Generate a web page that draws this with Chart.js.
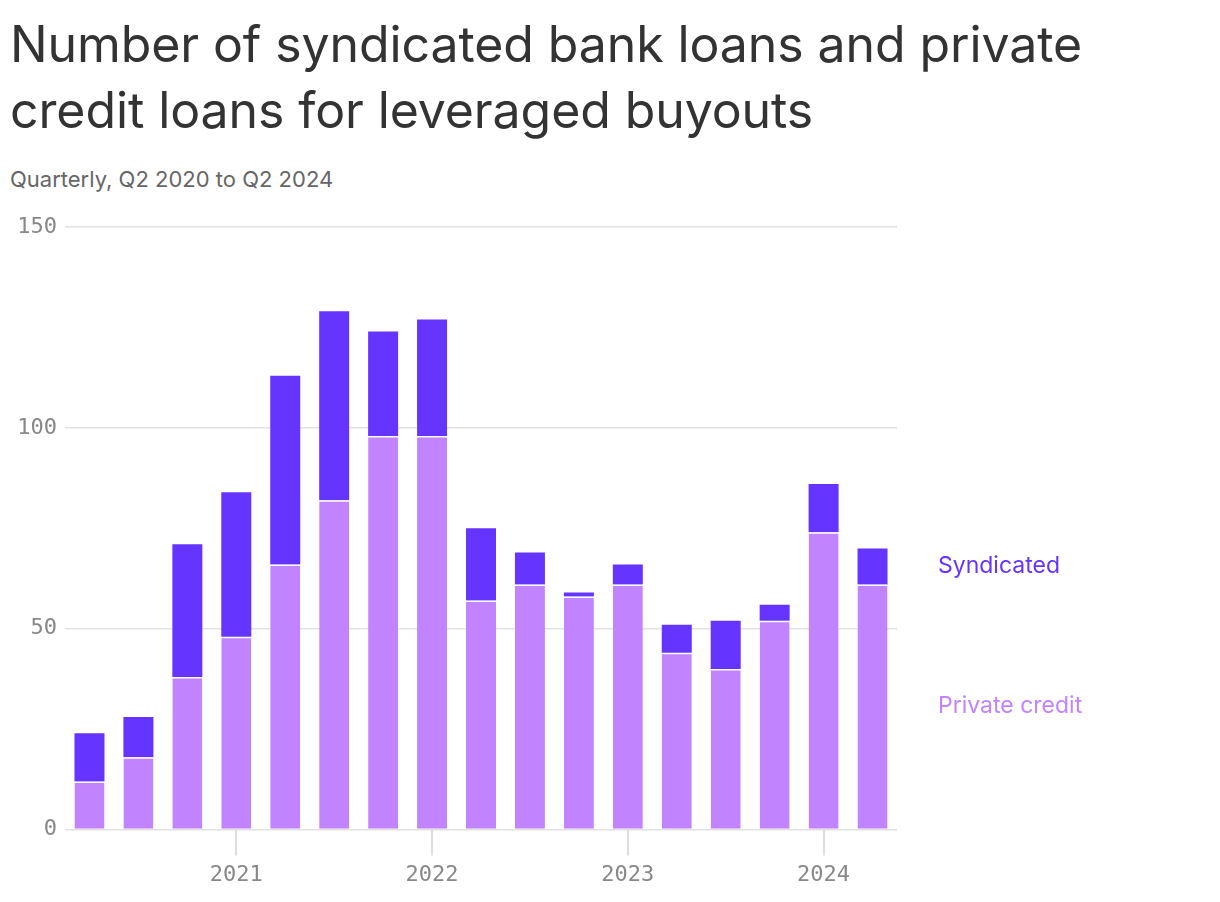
<!DOCTYPE html>
<html>
<head>
<meta charset="utf-8">
<script src="https://cdn.jsdelivr.net/npm/chart.js@4"></script>
<style>
  body { margin: 0; background: #fff; font-family: Inter, "Noto Sans", sans-serif; }
  #title { position: absolute; left: 10px; top: 11px; margin: 0; font-size: 50px; font-weight: 400; line-height: 66px; color: #333; letter-spacing: -0.1px; }
  #subtitle { position: absolute; left: 10px; top: 166px; font-size: 22px; color: #666; }
  #wrap { position: absolute; left: 0; top: 200px; width: 1220px; height: 700px; }
  .lab { position: absolute; left: 938px; font-size: 23px; }
</style>
</head>
<body>
<h1 id="title">Number of syndicated bank loans and private<br>credit loans for leveraged buyouts</h1>
<div id="subtitle">Quarterly, Q2 2020 to Q2 2024</div>
<div id="wrap"><canvas id="chart"></canvas></div>
<div class="lab" style="top:551px;color:#6535ff">Syndicated</div>
<div class="lab" style="top:691px;color:#c283ff">Private credit</div>
<script>
document.addEventListener('DOMContentLoaded', () => {
    // Quarters Q2 2020 .. Q2 2024
    const quarters = ['Q2 2020', 'Q3 2020', 'Q4 2020', 'Q1 2021', 'Q2 2021', 'Q3 2021', 'Q4 2021',
        'Q1 2022', 'Q2 2022', 'Q3 2022', 'Q4 2022', 'Q1 2023', 'Q2 2023', 'Q3 2023', 'Q4 2023',
        'Q1 2024', 'Q2 2024'];
    const privateCredit = [12, 18, 38, 48, 66, 82, 98, 98, 57, 61, 58, 61, 44, 40, 52, 74, 61];
    const syndicated = [12, 10, 33, 36, 47, 47, 26, 29, 18, 8, 1, 5, 7, 12, 4, 12, 9];
    const yTicks = [0, 50, 100, 150];

    const isQ1 = (i) => quarters[i].startsWith('Q1');

    const canvas = document.getElementById('chart');
    canvas.width = 1220;
    canvas.height = 700;

    new Chart(canvas.getContext('2d'), {
        type: 'bar',
        data: {
            labels: quarters,
            datasets: [{
                label: 'Private credit',
                data: privateCredit,
                backgroundColor: '#c283ff',
                borderColor: '#ffffff',
                borderWidth: { top: 1.5, left: 0, right: 0, bottom: 0 },
                borderSkipped: false
            }, {
                label: 'Syndicated',
                data: syndicated,
                backgroundColor: '#6535ff',
                borderWidth: 0
            }]
        },
        options: {
            responsive: false,
            animation: false,
            layout: { padding: { left: 0, right: 323, top: 27, bottom: 6 } },
            datasets: { bar: { barPercentage: 0.613, categoryPercentage: 1 } },
            scales: {
                x: {
                    stacked: true,
                    offset: true,
                    border: { display: false },
                    grid: {
                        offset: false,
                        drawOnChartArea: false,
                        tickLength: 26,
                        lineWidth: 2,
                        color: (ctx) => (isQ1(ctx.index) ? '#dddddd' : 'rgba(0,0,0,0)')
                    },
                    ticks: {
                        autoSkip: false,
                        maxRotation: 0,
                        padding: 6,
                        color: '#888',
                        font: { family: 'DejaVu Sans Mono', size: 22 },
                        callback: (v, i) => (isQ1(i) ? quarters[i].slice(3) : '')
                    }
                },
                y: {
                    stacked: true,
                    min: 0,
                    max: 150,
                    afterBuildTicks: (axis) => { axis.ticks = yTicks.map(v => ({ value: v })); },
                    afterFit: (axis) => { axis.width = 65; },
                    border: { display: false },
                    grid: { color: '#e2e2e2', lineWidth: 1.5, drawTicks: false },
                    ticks: {
                        padding: 8,
                        color: '#888',
                        font: { family: 'DejaVu Sans Mono', size: 22 }
                    }
                }
            },
            plugins: {
                legend: { display: false },
                tooltip: { enabled: false }
            }
        }
    });
});
</script>
</body>
</html>
